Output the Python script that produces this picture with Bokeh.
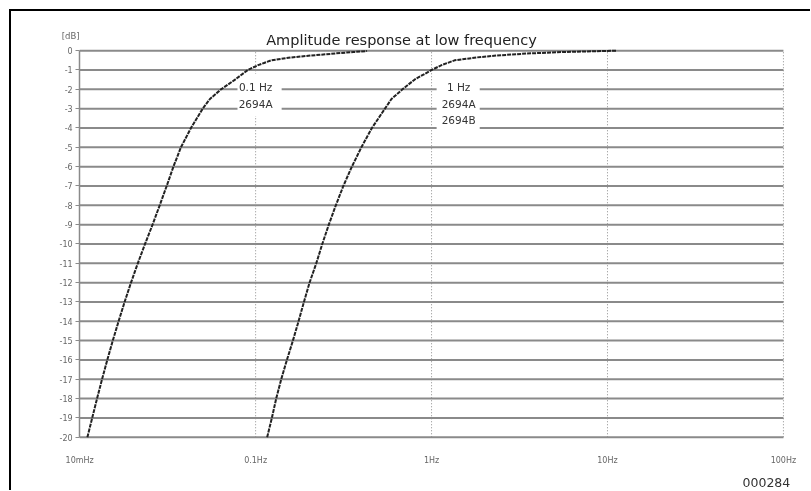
from bokeh.plotting import figure
from bokeh.models import FixedTicker, LinearAxis, LogAxis, LogScale
from bokeh.core.properties import value
from bokeh.embed import file_html
from bokeh.resources import INLINE

# ---- data ----
# curve for the 0.1 Hz version (2694A)
freq_01hz = [0.01106, 0.01178, 0.01255, 0.01340, 0.01435, 0.01542, 0.01664, 0.01800,
             0.01957, 0.02140, 0.02352, 0.02596, 0.02850, 0.03123, 0.03410, 0.03763,
             0.04290, 0.05003, 0.0550, 0.06360, 0.0764, 0.09028, 0.1033, 0.1226,
             0.1593, 0.2071, 0.2875, 0.3600, 0.430]
db_01hz = [-20, -19, -18, -17, -16, -15, -14, -13, -12, -11, -10, -9, -8, -7, -6, -5,
           -4, -3, -2.5, -2, -1.5, -1, -0.75, -0.5, -0.35, -0.25, -0.14, -0.07, -0.02]

# curve for the 1 Hz version (2694A / 2694B)
freq_1hz = [0.1163, 0.1237, 0.1309, 0.1398, 0.1506, 0.1629, 0.1754, 0.1882, 0.2026,
            0.2212, 0.2393, 0.2606, 0.2857, 0.3152, 0.3524, 0.3991, 0.4582, 0.5433,
            0.5918, 0.6834, 0.800, 1.0, 1.140, 1.352, 1.805, 2.346, 3.478, 5.157,
            8.16, 11.33]
db_1hz = [-20, -19, -18, -17, -16, -15, -14, -13, -12, -11, -10, -9, -8, -7, -6, -5,
          -4, -3, -2.5, -2, -1.5, -1, -0.75, -0.5, -0.35, -0.25, -0.15, -0.08,
          -0.03, 0]

x_ticks = [0.01, 0.1, 1, 10, 100]
x_tick_labels = ["10mHz", "0.1Hz", "1Hz", "10Hz", "100Hz"]
x_grid_ticks = [0.1, 1, 10, 100]
y_ticks = list(range(0, -21, -1))
y_tick_labels = [str(v) for v in y_ticks]

ann1_freq = 0.1
ann1_lines = ["0.1 Hz", "2694A"]
ann1_db = [-1.87, -2.75]
ann2_freq = 1.425
ann2_lines = ["1 Hz", "2694A", "2694B"]
ann2_db = [-1.87, -2.75, -3.6]

title_text = "Amplitude response at low frequency"
y_unit = "[dB]"
doc_code = "000284"

FONT = "DejaVu Sans"
GRID = "#8a8a8a"

f_min, f_max = x_ticks[0], x_ticks[-1]
db_min, db_max = y_ticks[-1], y_ticks[0]

# canvas spans page x 11..810 (799 px) and y 11..490 (479 px)
p = figure(width=799, height=479, x_axis_type=None, y_axis_type=None,
           x_range=(0.004097, 146.3), y_range=(-22.857, 2.026),
           output_backend="svg", toolbar_location=None,
           min_border_left=0, min_border_right=0, min_border_top=0, min_border_bottom=0)
p.x_scale = LogScale()
p.styles = {"position": "fixed", "top": "9px", "left": "9px",
            "box-sizing": "content-box", "overflow": "hidden",
            "border-top": "2px solid black", "border-left": "2px solid black"}
p.outline_line_color = None
p.background_fill_color = "white"
p.border_fill_color = "white"
p.xgrid.visible = False
p.ygrid.visible = False

# y axis, drawn at 10 mHz
yax = LinearAxis(fixed_location=f_min, bounds=(db_min, db_max),
                 ticker=FixedTicker(ticks=y_ticks),
                 major_label_overrides=dict(zip(y_ticks, y_tick_labels)))
yax.axis_line_color = GRID
yax.axis_line_width = 1.5
yax.major_tick_line_color = GRID
yax.major_tick_out = 4
yax.major_tick_in = 0
yax.minor_tick_line_color = None
yax.major_label_text_font = FONT
yax.major_label_text_font_size = "8px"
yax.major_label_text_color = "#666666"
yax.major_label_standoff = 3
p.add_layout(yax, "left")

# x axis, drawn at -20 dB
xax = LogAxis(fixed_location=db_min, ticker=FixedTicker(ticks=x_ticks),
              major_label_overrides=dict(zip(x_ticks, x_tick_labels)))
xax.axis_line_color = None
xax.major_tick_line_color = None
xax.minor_tick_line_color = None
xax.major_tick_out = 0
xax.major_tick_in = 0
xax.major_label_text_font = FONT
xax.major_label_text_font_size = "8px"
xax.major_label_text_color = "#666666"
xax.major_label_standoff = 19
p.add_layout(xax, "below")

# grid lines
p.segment(x0=[f_min] * len(y_ticks), x1=[f_max] * len(y_ticks), y0=y_ticks, y1=y_ticks,
          line_color=GRID, line_width=2)
p.segment(x0=x_grid_ticks, x1=x_grid_ticks, y0=[db_min] * len(x_grid_ticks),
          y1=[db_max] * len(x_grid_ticks),
          line_color="#8c8c8c", line_width=1, line_dash="1 2")

# white masks behind the annotations
p.quad(left=[ann1_freq * 10 ** -0.103, ann2_freq * 10 ** -0.125],
       right=[ann1_freq * 10 ** 0.148, ann2_freq * 10 ** 0.12],
       top=[-1.19, -1.19], bottom=[-3.38, -4.05],
       fill_color="white", line_color=None)

# curves
for fx, dbv in [(freq_01hz, db_01hz), (freq_1hz, db_1hz)]:
    p.line(fx, dbv, line_color="#222222", line_width=2, line_dash="4 1",
           line_join="round")

p.text(x=[ann1_freq] * len(ann1_lines), y=ann1_db, text=ann1_lines,
       text_align="center", text_baseline="middle",
       text_font=value(FONT), text_font_size="10.5px", text_color="#333333")
p.text(x=[ann2_freq] * len(ann2_lines), y=ann2_db, text=ann2_lines,
       text_align="center", text_baseline="middle",
       text_font=value(FONT), text_font_size="10.5px", text_color="#333333")

# title, unit and document code
p.text(x=[0.6745], y=[0.571], text=[title_text], text_align="center",
       text_baseline="middle", text_font=value(FONT), text_font_size="14.5px",
       text_color="#222222")
p.text(x=[0.008887], y=[0.779], text=[y_unit], text_align="center",
       text_baseline="middle", text_font=value(FONT), text_font_size="8.5px",
       text_color="#666666")
p.text(x=[80.0], y=[-22.35], text=[doc_code], text_align="center",
       text_baseline="middle", text_font=value(FONT), text_font_size="12.5px",
       text_color="#333333")

open("out.html", "w").write(file_html(p, INLINE))
